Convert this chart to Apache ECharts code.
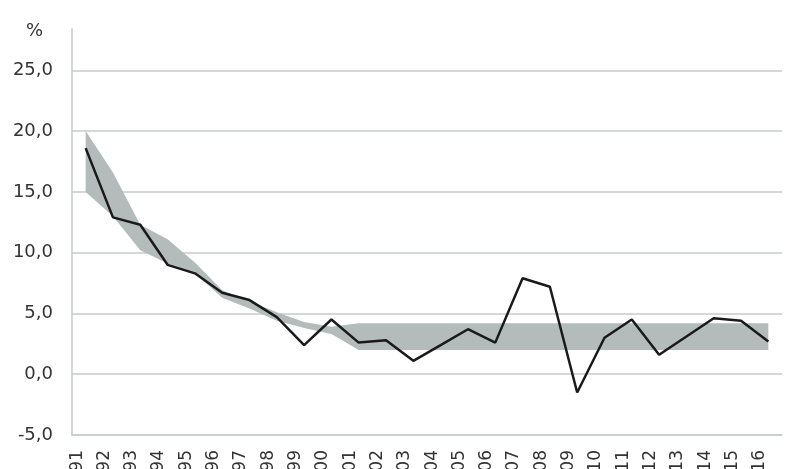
<!DOCTYPE html>
<html>
<head>
<meta charset="utf-8">
<script src="https://cdn.jsdelivr.net/npm/echarts@6/dist/echarts.min.js"></script>
<style>
html,body{margin:0;padding:0;background:#fff;}
#chart{width:786px;height:469px;}
</style>
</head>
<body>
<div id="chart"></div>
<script>
var years = ['1991','1992','1993','1994','1995','1996','1997','1998','1999','2000','2001','2002','2003','2004','2005','2006','2007','2008','2009','2010','2011','2012','2013','2014','2015','2016'];
var actual = [18.6,12.9,12.3,9.0,8.3,6.7,6.1,4.7,2.4,4.5,2.6,2.8,1.1,2.4,3.7,2.6,7.9,7.2,-1.5,3.0,4.5,1.6,3.1,4.6,4.4,2.7];
var bandLower = [15.0,13.0,10.2,9.1,8.3,6.3,5.4,4.4,3.8,3.3,2.0,2.0,2.0,2.0,2.0,2.0,2.0,2.0,2.0,2.0,2.0,2.0,2.0,2.0,2.0,2.0];
var bandUpper = [20.0,16.6,12.3,11.1,9.2,6.9,6.0,5.1,4.3,3.9,4.2,4.2,4.2,4.2,4.2,4.2,4.2,4.2,4.2,4.2,4.2,4.2,4.2,4.2,4.2,4.2];
var yTicks = {min: -5, max: 28.4, step: 5};

var bandWidth = bandUpper.map(function(u, i){ return +(u - bandLower[i]).toFixed(2); });
var FONT = 'DejaVu Sans';
var gridColor = '#c6cbca';

var chart = echarts.init(document.getElementById('chart'), null, {renderer: 'canvas'});
chart.setOption({
  animation: false,
  backgroundColor: '#ffffff',
  title: {
    text: '%', left: 21, top: 17,
    textStyle: {fontFamily: FONT, fontSize: 18, fontWeight: 'normal', color: '#333'}
  },
  grid: {left: 72, right: 4, top: 29, bottom: 34, containLabel: false, outerBoundsMode: 'none'},
  xAxis: {
    type: 'category',
    data: years,
    boundaryGap: true,
    axisLine: {show: true, onZero: false, lineStyle: {color: gridColor, width: 1.5}},
    axisTick: {show: false},
    axisLabel: {
      rotate: 90, interval: 0, margin: 15,
      fontFamily: FONT, fontSize: 17, color: '#333',
      verticalAlign: 'bottom'
    },
    splitLine: {show: false}
  },
  yAxis: {
    type: 'value',
    min: yTicks.min, max: yTicks.max, interval: yTicks.step,
    axisLine: {show: true, lineStyle: {color: gridColor, width: 1.5}},
    axisTick: {show: false},
    axisLabel: {
      showMaxLabel: false, margin: 19,
      fontFamily: FONT, fontSize: 18, color: '#333',
      formatter: function(v){ return v.toFixed(1).replace('.', ','); }
    },
    splitLine: {show: true, showMaxLine: false, lineStyle: {color: gridColor, width: 1.5}}
  },
  series: [
    {
      type: 'line', stack: 'band', data: bandLower,
      symbol: 'none', lineStyle: {width: 0, opacity: 0}, silent: true
    },
    {
      type: 'line', stack: 'band', data: bandWidth,
      symbol: 'none', lineStyle: {width: 0, opacity: 0},
      areaStyle: {color: '#b3bcbb', opacity: 1}, silent: true
    },
    {
      type: 'line', data: actual,
      symbol: 'none', z: 5,
      lineStyle: {color: '#1a1a1a', width: 2.5}
    }
  ]
});
</script>
</body>
</html>
